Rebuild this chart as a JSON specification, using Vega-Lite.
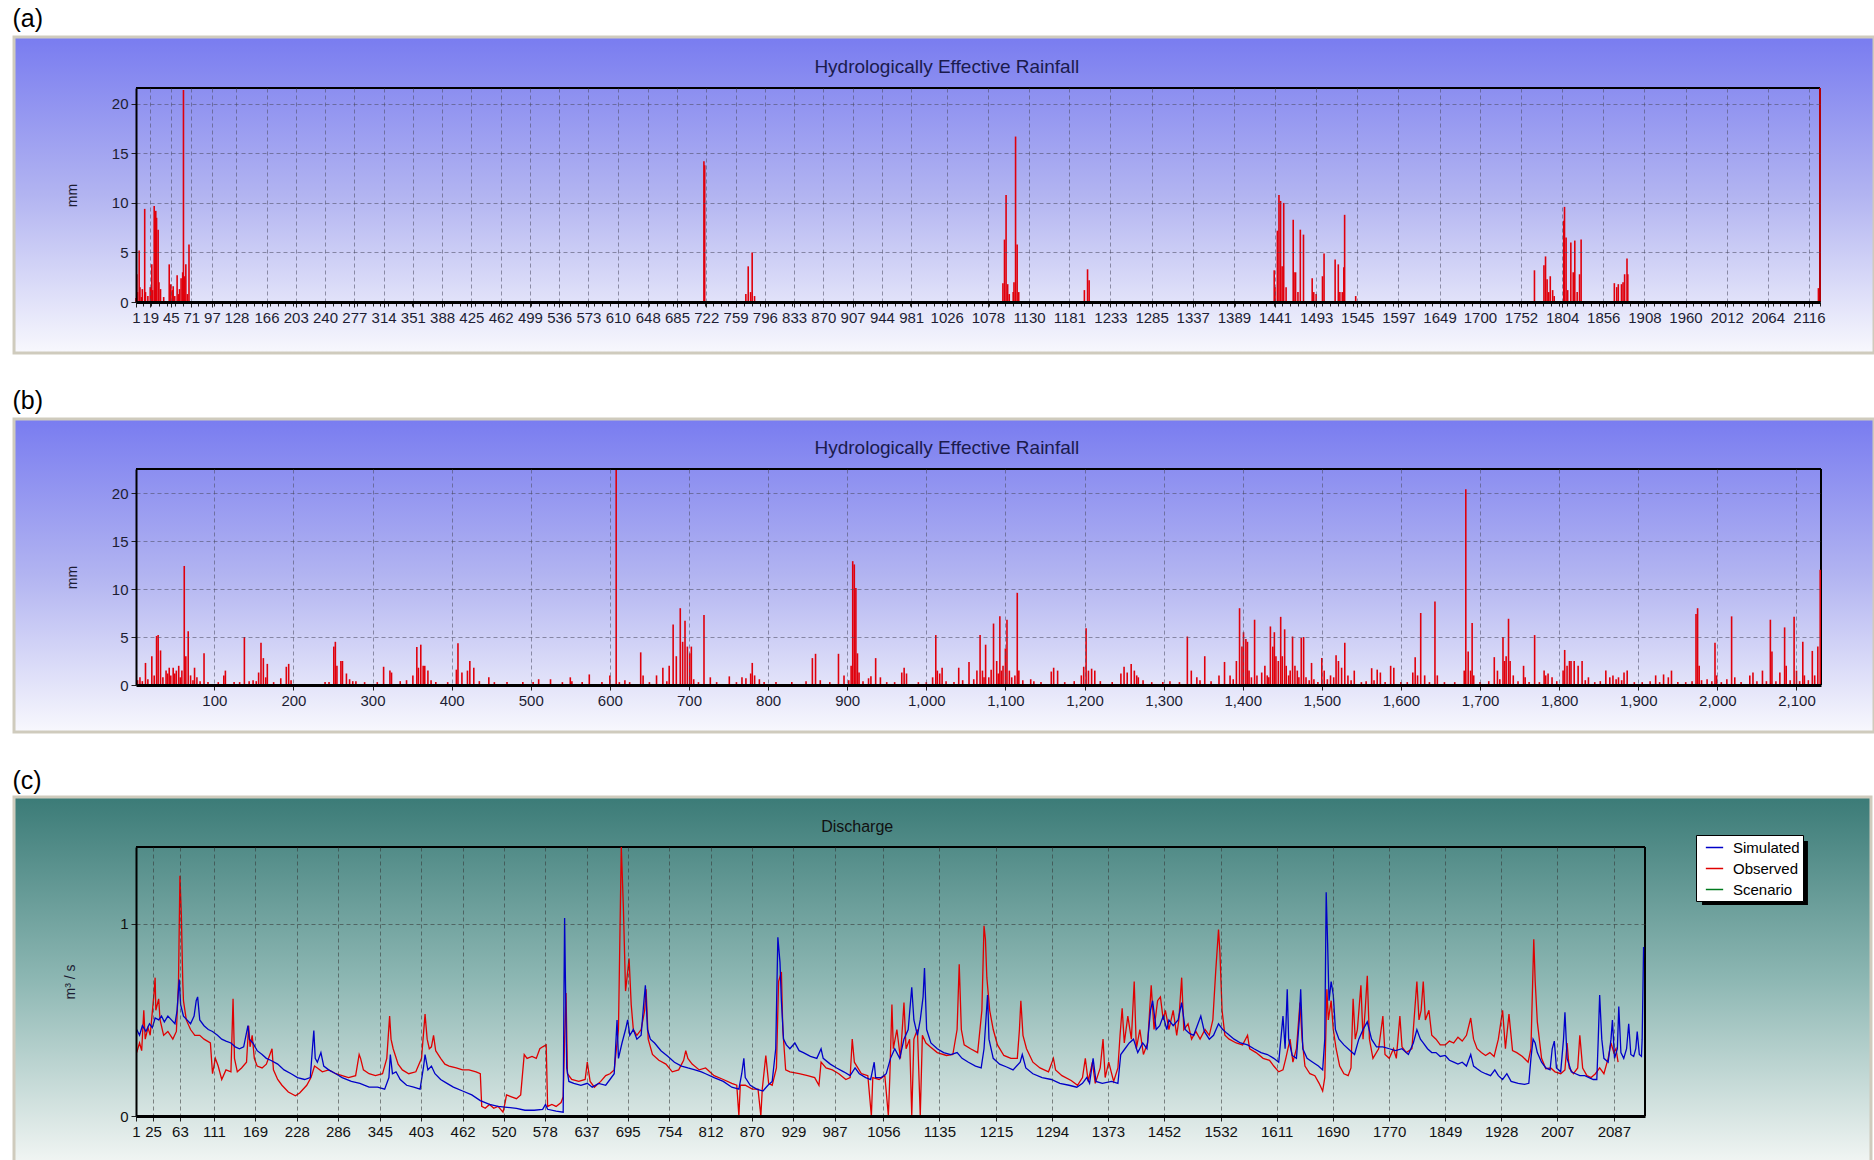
{
  "$schema": "https://vega.github.io/schema/vega-lite/v6.json",
  "background": "white",
  "padding": {"left": 12, "top": 7, "right": 0, "bottom": 0},
  "spacing": 34,
  "resolve": {"scale": {"color": "independent"}, "legend": {"color": "independent"}},
  "config": {
    "font": "Liberation Sans",
    "view": {"stroke": null},
    "axis": {
      "labelFont": "Liberation Sans",
      "labelFontSize": 15,
      "labelColor": "#1d1d33",
      "titleFont": "Liberation Sans",
      "titleFontSize": 14,
      "titleFontWeight": "normal",
      "titleColor": "#1d1d33",
      "gridDash": [4, 3],
      "gridColor": "#4a4a60",
      "gridOpacity": 0.55,
      "gridWidth": 1,
      "tickColor": "#222222",
      "domainColor": "black",
      "labelOverlap": false,
      "labelFlush": false,
      "labelBound": false
    },
    "title": {"font": "Liberation Sans", "fontWeight": "normal"}
  },
  "datasets": {
    "rainA": [
      {"day": 1, "mm": 0.4}, {"day": 2, "mm": 2.8}, {"day": 3, "mm": 1.0}, {"day": 5, "mm": 5.2}, {"day": 6, "mm": 1.5},
      {"day": 8, "mm": 0.5}, {"day": 9, "mm": 1.3}, {"day": 12, "mm": 9.4}, {"day": 13, "mm": 1.0}, {"day": 16, "mm": 0.6},
      {"day": 19, "mm": 1.5}, {"day": 21, "mm": 3.8}, {"day": 22, "mm": 1.2}, {"day": 24, "mm": 9.7}, {"day": 25, "mm": 4.0},
      {"day": 26, "mm": 9.2}, {"day": 27, "mm": 8.5}, {"day": 29, "mm": 7.3}, {"day": 30, "mm": 2.0}, {"day": 32, "mm": 1.3},
      {"day": 36, "mm": 0.5}, {"day": 43, "mm": 3.8}, {"day": 44, "mm": 1.0}, {"day": 45, "mm": 1.8}, {"day": 47, "mm": 1.2},
      {"day": 48, "mm": 1.6}, {"day": 50, "mm": 0.6}, {"day": 53, "mm": 2.7}, {"day": 55, "mm": 0.8}, {"day": 56, "mm": 1.3},
      {"day": 58, "mm": 2.4}, {"day": 60, "mm": 3.0}, {"day": 61, "mm": 21.4}, {"day": 62, "mm": 2.6}, {"day": 64, "mm": 3.8},
      {"day": 66, "mm": 0.8}, {"day": 68, "mm": 5.8},
      {"day": 719, "mm": 14.2}, {"day": 720, "mm": 13.8},
      {"day": 772, "mm": 0.8}, {"day": 775, "mm": 3.6}, {"day": 778, "mm": 1.0}, {"day": 780, "mm": 5.0}, {"day": 783, "mm": 0.6},
      {"day": 1097, "mm": 1.9}, {"day": 1099, "mm": 6.3}, {"day": 1101, "mm": 10.8}, {"day": 1103, "mm": 1.8}, {"day": 1105, "mm": 0.8},
      {"day": 1110, "mm": 1.0}, {"day": 1111, "mm": 2.0}, {"day": 1113, "mm": 16.7}, {"day": 1115, "mm": 5.8}, {"day": 1117, "mm": 1.0},
      {"day": 1200, "mm": 1.2}, {"day": 1204, "mm": 3.3}, {"day": 1206, "mm": 2.2},
      {"day": 1440, "mm": 3.2}, {"day": 1441, "mm": 1.5}, {"day": 1444, "mm": 7.2}, {"day": 1446, "mm": 10.8}, {"day": 1448, "mm": 10.2},
      {"day": 1450, "mm": 3.6}, {"day": 1452, "mm": 10.0}, {"day": 1455, "mm": 1.5}, {"day": 1464, "mm": 8.3}, {"day": 1465, "mm": 3.0},
      {"day": 1467, "mm": 3.0}, {"day": 1470, "mm": 1.0}, {"day": 1473, "mm": 7.3}, {"day": 1477, "mm": 6.8}, {"day": 1488, "mm": 2.4},
      {"day": 1490, "mm": 1.0}, {"day": 1493, "mm": 0.8}, {"day": 1501, "mm": 2.6}, {"day": 1503, "mm": 4.9}, {"day": 1517, "mm": 4.3},
      {"day": 1521, "mm": 3.8}, {"day": 1523, "mm": 1.0}, {"day": 1526, "mm": 1.0}, {"day": 1528, "mm": 3.5}, {"day": 1529, "mm": 8.8},
      {"day": 1543, "mm": 0.6},
      {"day": 1769, "mm": 3.2}, {"day": 1781, "mm": 3.7}, {"day": 1783, "mm": 4.6}, {"day": 1785, "mm": 2.3}, {"day": 1787, "mm": 1.0},
      {"day": 1789, "mm": 2.6}, {"day": 1792, "mm": 1.2}, {"day": 1794, "mm": 0.6}, {"day": 1806, "mm": 8.2}, {"day": 1807, "mm": 9.6},
      {"day": 1809, "mm": 6.5}, {"day": 1811, "mm": 1.2}, {"day": 1815, "mm": 6.0}, {"day": 1818, "mm": 3.0}, {"day": 1820, "mm": 6.2},
      {"day": 1823, "mm": 1.0}, {"day": 1826, "mm": 2.8}, {"day": 1828, "mm": 6.3},
      {"day": 1870, "mm": 1.9}, {"day": 1873, "mm": 1.5}, {"day": 1875, "mm": 1.8}, {"day": 1879, "mm": 1.8}, {"day": 1881, "mm": 2.0},
      {"day": 1883, "mm": 2.8}, {"day": 1886, "mm": 4.4}, {"day": 1887, "mm": 2.8},
      {"day": 2128, "mm": 1.4}, {"day": 2130, "mm": 21.6}
    ],
    "rainB": [
      {"day": 3, "mm": 0.5}, {"day": 6, "mm": 0.8}, {"day": 9, "mm": 0.4}, {"day": 13, "mm": 2.3}, {"day": 16, "mm": 0.6},
      {"day": 21, "mm": 3.0}, {"day": 24, "mm": 1.0}, {"day": 27, "mm": 5.1}, {"day": 29, "mm": 5.2}, {"day": 32, "mm": 3.6},
      {"day": 35, "mm": 0.8}, {"day": 39, "mm": 1.5}, {"day": 41, "mm": 1.2}, {"day": 43, "mm": 1.8}, {"day": 45, "mm": 1.0},
      {"day": 48, "mm": 1.8}, {"day": 50, "mm": 1.2}, {"day": 52, "mm": 1.5}, {"day": 55, "mm": 2.0}, {"day": 57, "mm": 0.8},
      {"day": 59, "mm": 1.5}, {"day": 62, "mm": 12.4}, {"day": 64, "mm": 3.0}, {"day": 67, "mm": 5.6}, {"day": 70, "mm": 1.0},
      {"day": 73, "mm": 0.5}, {"day": 75, "mm": 1.8}, {"day": 78, "mm": 0.8}, {"day": 82, "mm": 0.4}, {"day": 87, "mm": 3.3},
      {"day": 92, "mm": 0.3}, {"day": 105, "mm": 0.3}, {"day": 112, "mm": 1.0}, {"day": 114, "mm": 1.5}, {"day": 125, "mm": 0.3},
      {"day": 132, "mm": 0.3}, {"day": 138, "mm": 5.0}, {"day": 144, "mm": 0.4}, {"day": 149, "mm": 0.5}, {"day": 153, "mm": 0.4},
      {"day": 156, "mm": 1.3}, {"day": 159, "mm": 4.4}, {"day": 162, "mm": 2.8}, {"day": 165, "mm": 0.8}, {"day": 167, "mm": 2.2},
      {"day": 175, "mm": 0.3}, {"day": 184, "mm": 0.7}, {"day": 191, "mm": 1.9}, {"day": 194, "mm": 2.2}, {"day": 197, "mm": 0.5},
      {"day": 240, "mm": 0.3}, {"day": 245, "mm": 0.3}, {"day": 251, "mm": 4.0}, {"day": 253, "mm": 4.5}, {"day": 255, "mm": 2.0},
      {"day": 260, "mm": 2.5}, {"day": 262, "mm": 2.5}, {"day": 267, "mm": 1.2}, {"day": 271, "mm": 0.6}, {"day": 275, "mm": 0.4},
      {"day": 279, "mm": 0.4}, {"day": 290, "mm": 0.3}, {"day": 306, "mm": 0.3}, {"day": 314, "mm": 1.9}, {"day": 322, "mm": 1.5},
      {"day": 324, "mm": 1.3}, {"day": 335, "mm": 0.4}, {"day": 343, "mm": 0.5}, {"day": 351, "mm": 1.0}, {"day": 356, "mm": 3.95},
      {"day": 358, "mm": 1.8}, {"day": 361, "mm": 4.2}, {"day": 364, "mm": 2.0}, {"day": 366, "mm": 2.0}, {"day": 370, "mm": 1.5},
      {"day": 374, "mm": 0.5}, {"day": 380, "mm": 0.3}, {"day": 395, "mm": 0.3}, {"day": 406, "mm": 1.6}, {"day": 408, "mm": 4.35},
      {"day": 413, "mm": 1.3}, {"day": 420, "mm": 1.5}, {"day": 423, "mm": 2.5}, {"day": 428, "mm": 1.8}, {"day": 435, "mm": 0.4},
      {"day": 447, "mm": 0.8}, {"day": 454, "mm": 0.3}, {"day": 470, "mm": 0.3}, {"day": 490, "mm": 0.3}, {"day": 503, "mm": 0.3},
      {"day": 510, "mm": 0.6}, {"day": 525, "mm": 0.6}, {"day": 540, "mm": 0.3}, {"day": 550, "mm": 0.8}, {"day": 552, "mm": 0.4},
      {"day": 565, "mm": 0.3}, {"day": 574, "mm": 1.1}, {"day": 590, "mm": 0.3}, {"day": 600, "mm": 1.0}, {"day": 608, "mm": 22.4},
      {"day": 612, "mm": 0.3}, {"day": 619, "mm": 0.5}, {"day": 625, "mm": 0.3},
      {"day": 639, "mm": 3.4}, {"day": 642, "mm": 1.0}, {"day": 650, "mm": 0.3}, {"day": 659, "mm": 1.0}, {"day": 667, "mm": 1.8},
      {"day": 672, "mm": 0.4}, {"day": 675, "mm": 2.0}, {"day": 680, "mm": 6.3}, {"day": 684, "mm": 3.0}, {"day": 689, "mm": 8.0},
      {"day": 692, "mm": 4.5}, {"day": 695, "mm": 6.7}, {"day": 698, "mm": 4.0}, {"day": 701, "mm": 3.3}, {"day": 703, "mm": 4.0},
      {"day": 706, "mm": 0.6}, {"day": 712, "mm": 0.3}, {"day": 719, "mm": 7.3}, {"day": 727, "mm": 0.8}, {"day": 735, "mm": 0.3},
      {"day": 751, "mm": 0.9}, {"day": 760, "mm": 0.3}, {"day": 767, "mm": 0.8}, {"day": 772, "mm": 0.7}, {"day": 778, "mm": 1.2},
      {"day": 780, "mm": 2.3}, {"day": 783, "mm": 1.0}, {"day": 789, "mm": 0.6}, {"day": 795, "mm": 0.3}, {"day": 810, "mm": 0.3},
      {"day": 830, "mm": 0.3}, {"day": 848, "mm": 0.4}, {"day": 856, "mm": 2.8}, {"day": 860, "mm": 3.25}, {"day": 866, "mm": 0.5},
      {"day": 878, "mm": 0.3}, {"day": 889, "mm": 3.25}, {"day": 896, "mm": 1.0}, {"day": 902, "mm": 0.5}, {"day": 905, "mm": 2.0},
      {"day": 907, "mm": 12.9}, {"day": 909, "mm": 12.56}, {"day": 911, "mm": 10.1}, {"day": 913, "mm": 3.3}, {"day": 915, "mm": 1.3},
      {"day": 920, "mm": 0.4}, {"day": 927, "mm": 0.7}, {"day": 930, "mm": 0.9}, {"day": 936, "mm": 2.8}, {"day": 942, "mm": 0.8},
      {"day": 950, "mm": 0.3}, {"day": 960, "mm": 0.3}, {"day": 969, "mm": 1.3}, {"day": 972, "mm": 1.8}, {"day": 975, "mm": 1.2},
      {"day": 990, "mm": 0.3}, {"day": 1000, "mm": 0.3}, {"day": 1008, "mm": 0.8}, {"day": 1012, "mm": 5.2}, {"day": 1014, "mm": 1.5},
      {"day": 1017, "mm": 1.2}, {"day": 1020, "mm": 1.8}, {"day": 1025, "mm": 0.4}, {"day": 1035, "mm": 0.3}, {"day": 1041, "mm": 1.8},
      {"day": 1046, "mm": 0.5}, {"day": 1054, "mm": 2.4}, {"day": 1060, "mm": 0.6}, {"day": 1064, "mm": 1.5}, {"day": 1068, "mm": 5.2},
      {"day": 1071, "mm": 1.5}, {"day": 1073, "mm": 0.8}, {"day": 1075, "mm": 4.2}, {"day": 1079, "mm": 0.8}, {"day": 1082, "mm": 1.6},
      {"day": 1085, "mm": 6.4}, {"day": 1089, "mm": 2.5}, {"day": 1091, "mm": 1.2}, {"day": 1093, "mm": 7.15}, {"day": 1095, "mm": 1.5},
      {"day": 1097, "mm": 2.0}, {"day": 1100, "mm": 3.8}, {"day": 1102, "mm": 6.8}, {"day": 1105, "mm": 1.5}, {"day": 1108, "mm": 0.8},
      {"day": 1112, "mm": 1.0}, {"day": 1115, "mm": 9.6}, {"day": 1117, "mm": 1.5}, {"day": 1122, "mm": 0.5}, {"day": 1132, "mm": 0.6},
      {"day": 1136, "mm": 0.4}, {"day": 1145, "mm": 0.3}, {"day": 1158, "mm": 1.4}, {"day": 1161, "mm": 1.8}, {"day": 1166, "mm": 1.5},
      {"day": 1175, "mm": 0.3}, {"day": 1187, "mm": 0.4}, {"day": 1196, "mm": 1.0}, {"day": 1199, "mm": 1.9}, {"day": 1202, "mm": 5.9},
      {"day": 1205, "mm": 1.5}, {"day": 1209, "mm": 1.7}, {"day": 1213, "mm": 1.5}, {"day": 1220, "mm": 0.4}, {"day": 1235, "mm": 0.3},
      {"day": 1246, "mm": 1.2}, {"day": 1250, "mm": 1.9}, {"day": 1254, "mm": 1.3}, {"day": 1259, "mm": 2.2}, {"day": 1263, "mm": 1.5},
      {"day": 1266, "mm": 1.0}, {"day": 1268, "mm": 0.8}, {"day": 1274, "mm": 0.5}, {"day": 1285, "mm": 0.3}, {"day": 1299, "mm": 0.3},
      {"day": 1308, "mm": 0.4}, {"day": 1320, "mm": 0.3}, {"day": 1330, "mm": 5.05}, {"day": 1335, "mm": 1.5}, {"day": 1342, "mm": 0.8},
      {"day": 1346, "mm": 0.5}, {"day": 1352, "mm": 3.0}, {"day": 1360, "mm": 0.4},
      {"day": 1370, "mm": 1.0}, {"day": 1377, "mm": 2.4}, {"day": 1384, "mm": 1.0}, {"day": 1388, "mm": 0.6}, {"day": 1392, "mm": 2.5},
      {"day": 1396, "mm": 8.0}, {"day": 1399, "mm": 4.0}, {"day": 1401, "mm": 5.5}, {"day": 1404, "mm": 4.8}, {"day": 1406, "mm": 4.5},
      {"day": 1408, "mm": 1.5}, {"day": 1411, "mm": 0.8}, {"day": 1415, "mm": 6.8}, {"day": 1418, "mm": 1.0}, {"day": 1424, "mm": 1.3},
      {"day": 1428, "mm": 2.0}, {"day": 1431, "mm": 1.0}, {"day": 1433, "mm": 0.8}, {"day": 1435, "mm": 6.1}, {"day": 1438, "mm": 4.0},
      {"day": 1440, "mm": 5.5}, {"day": 1442, "mm": 3.0}, {"day": 1445, "mm": 2.5}, {"day": 1448, "mm": 7.1}, {"day": 1450, "mm": 3.0},
      {"day": 1453, "mm": 5.8}, {"day": 1455, "mm": 2.0}, {"day": 1458, "mm": 1.0}, {"day": 1460, "mm": 1.5}, {"day": 1463, "mm": 5.05},
      {"day": 1466, "mm": 2.0}, {"day": 1469, "mm": 1.5}, {"day": 1471, "mm": 0.8}, {"day": 1474, "mm": 4.9}, {"day": 1477, "mm": 5.0},
      {"day": 1480, "mm": 0.8}, {"day": 1484, "mm": 0.5}, {"day": 1487, "mm": 2.3}, {"day": 1490, "mm": 0.6}, {"day": 1495, "mm": 0.3},
      {"day": 1500, "mm": 2.8}, {"day": 1503, "mm": 1.5}, {"day": 1507, "mm": 0.6}, {"day": 1511, "mm": 1.0}, {"day": 1515, "mm": 0.8},
      {"day": 1518, "mm": 3.1}, {"day": 1521, "mm": 2.5}, {"day": 1525, "mm": 1.8}, {"day": 1529, "mm": 4.4}, {"day": 1533, "mm": 1.0},
      {"day": 1537, "mm": 0.5}, {"day": 1541, "mm": 1.5}, {"day": 1550, "mm": 0.3}, {"day": 1556, "mm": 0.4}, {"day": 1563, "mm": 1.75},
      {"day": 1566, "mm": 0.5}, {"day": 1570, "mm": 1.6}, {"day": 1574, "mm": 1.3}, {"day": 1580, "mm": 0.3}, {"day": 1587, "mm": 2.0},
      {"day": 1591, "mm": 1.8}, {"day": 1600, "mm": 0.3}, {"day": 1608, "mm": 0.3}, {"day": 1615, "mm": 1.3}, {"day": 1618, "mm": 2.9},
      {"day": 1621, "mm": 1.0}, {"day": 1625, "mm": 7.5}, {"day": 1630, "mm": 1.0}, {"day": 1636, "mm": 0.3}, {"day": 1643, "mm": 8.7},
      {"day": 1646, "mm": 1.0}, {"day": 1655, "mm": 0.3}, {"day": 1668, "mm": 0.3}, {"day": 1680, "mm": 1.5}, {"day": 1682, "mm": 20.4},
      {"day": 1685, "mm": 3.5}, {"day": 1688, "mm": 1.5}, {"day": 1690, "mm": 6.45}, {"day": 1692, "mm": 1.0}, {"day": 1700, "mm": 0.3},
      {"day": 1711, "mm": 0.4}, {"day": 1718, "mm": 2.9}, {"day": 1722, "mm": 1.5}, {"day": 1725, "mm": 0.6}, {"day": 1729, "mm": 5.0},
      {"day": 1731, "mm": 2.5}, {"day": 1733, "mm": 3.0}, {"day": 1736, "mm": 6.9}, {"day": 1738, "mm": 2.5}, {"day": 1742, "mm": 1.0},
      {"day": 1748, "mm": 0.4}, {"day": 1755, "mm": 2.0}, {"day": 1757, "mm": 0.8}, {"day": 1762, "mm": 0.3}, {"day": 1769, "mm": 5.2},
      {"day": 1775, "mm": 0.3}, {"day": 1781, "mm": 1.5}, {"day": 1783, "mm": 1.0}, {"day": 1786, "mm": 1.2}, {"day": 1791, "mm": 0.8},
      {"day": 1797, "mm": 0.4}, {"day": 1805, "mm": 1.5}, {"day": 1807, "mm": 3.65}, {"day": 1810, "mm": 2.0}, {"day": 1813, "mm": 2.5},
      {"day": 1815, "mm": 2.5}, {"day": 1819, "mm": 2.5}, {"day": 1824, "mm": 2.0}, {"day": 1829, "mm": 2.5}, {"day": 1833, "mm": 0.5},
      {"day": 1837, "mm": 0.8}, {"day": 1845, "mm": 0.3}, {"day": 1852, "mm": 0.4}, {"day": 1859, "mm": 1.5}, {"day": 1864, "mm": 0.8},
      {"day": 1868, "mm": 1.0}, {"day": 1872, "mm": 0.6}, {"day": 1875, "mm": 0.8}, {"day": 1879, "mm": 0.5}, {"day": 1882, "mm": 1.3},
      {"day": 1886, "mm": 1.5}, {"day": 1895, "mm": 0.3}, {"day": 1905, "mm": 0.3}, {"day": 1915, "mm": 0.4}, {"day": 1922, "mm": 1.0},
      {"day": 1927, "mm": 0.3}, {"day": 1932, "mm": 1.1}, {"day": 1938, "mm": 0.8}, {"day": 1942, "mm": 1.5}, {"day": 1950, "mm": 0.3},
      {"day": 1960, "mm": 0.3}, {"day": 1968, "mm": 0.4}, {"day": 1973, "mm": 7.4}, {"day": 1975, "mm": 8.0}, {"day": 1977, "mm": 2.0},
      {"day": 1980, "mm": 0.5}, {"day": 1987, "mm": 0.6}, {"day": 1993, "mm": 0.4}, {"day": 1997, "mm": 4.4}, {"day": 1999, "mm": 1.0},
      {"day": 2005, "mm": 0.3}, {"day": 2012, "mm": 0.6}, {"day": 2018, "mm": 7.15}, {"day": 2022, "mm": 0.8}, {"day": 2030, "mm": 0.3},
      {"day": 2041, "mm": 1.0}, {"day": 2045, "mm": 1.3}, {"day": 2050, "mm": 0.4}, {"day": 2057, "mm": 1.5}, {"day": 2062, "mm": 0.4},
      {"day": 2067, "mm": 6.8}, {"day": 2069, "mm": 3.5}, {"day": 2074, "mm": 0.4}, {"day": 2079, "mm": 1.3}, {"day": 2085, "mm": 6.0},
      {"day": 2087, "mm": 2.0}, {"day": 2092, "mm": 0.5}, {"day": 2097, "mm": 7.1}, {"day": 2100, "mm": 1.5}, {"day": 2104, "mm": 0.4},
      {"day": 2108, "mm": 4.5}, {"day": 2110, "mm": 1.0}, {"day": 2115, "mm": 0.5}, {"day": 2120, "mm": 3.55}, {"day": 2123, "mm": 1.0},
      {"day": 2127, "mm": 4.0}, {"day": 2130, "mm": 12.0}
    ],
    "observed": [
      {"day": 2, "q": 0.33}, {"day": 6, "q": 0.38}, {"day": 9, "q": 0.34}, {"day": 12, "q": 0.55}, {"day": 14, "q": 0.40},
      {"day": 18, "q": 0.46}, {"day": 21, "q": 0.42}, {"day": 26, "q": 0.62}, {"day": 28, "q": 0.72}, {"day": 29, "q": 0.55},
      {"day": 33, "q": 0.61}, {"day": 35, "q": 0.50}, {"day": 40, "q": 0.42}, {"day": 46, "q": 0.44}, {"day": 53, "q": 0.40},
      {"day": 58, "q": 0.44}, {"day": 61, "q": 0.70}, {"day": 63, "q": 1.25}, {"day": 65, "q": 1.05}, {"day": 67, "q": 0.70},
      {"day": 68, "q": 0.60}, {"day": 72, "q": 0.50}, {"day": 78, "q": 0.45}, {"day": 84, "q": 0.42}, {"day": 91, "q": 0.42},
      {"day": 97, "q": 0.40}, {"day": 106, "q": 0.38}, {"day": 109, "q": 0.22}, {"day": 113, "q": 0.30}, {"day": 117, "q": 0.26},
      {"day": 122, "q": 0.19}, {"day": 128, "q": 0.24}, {"day": 135, "q": 0.23}, {"day": 138, "q": 0.61}, {"day": 140, "q": 0.30},
      {"day": 144, "q": 0.23}, {"day": 150, "q": 0.25}, {"day": 157, "q": 0.28}, {"day": 160, "q": 0.47}, {"day": 162, "q": 0.36},
      {"day": 165, "q": 0.42}, {"day": 168, "q": 0.30}, {"day": 172, "q": 0.26}, {"day": 179, "q": 0.25}, {"day": 185, "q": 0.27},
      {"day": 190, "q": 0.32}, {"day": 193, "q": 0.35}, {"day": 195, "q": 0.24}, {"day": 201, "q": 0.19}, {"day": 207, "q": 0.16},
      {"day": 216, "q": 0.125}, {"day": 226, "q": 0.105}, {"day": 232, "q": 0.12}, {"day": 242, "q": 0.16}, {"day": 248, "q": 0.20},
      {"day": 253, "q": 0.26}, {"day": 257, "q": 0.25}, {"day": 264, "q": 0.23}, {"day": 273, "q": 0.24}, {"day": 283, "q": 0.22},
      {"day": 292, "q": 0.21}, {"day": 301, "q": 0.20}, {"day": 311, "q": 0.21}, {"day": 316, "q": 0.32}, {"day": 318, "q": 0.30},
      {"day": 322, "q": 0.24}, {"day": 330, "q": 0.22}, {"day": 339, "q": 0.21}, {"day": 349, "q": 0.22}, {"day": 355, "q": 0.30},
      {"day": 359, "q": 0.52}, {"day": 361, "q": 0.40}, {"day": 364, "q": 0.35}, {"day": 371, "q": 0.27}, {"day": 377, "q": 0.24},
      {"day": 386, "q": 0.22}, {"day": 396, "q": 0.23}, {"day": 404, "q": 0.30}, {"day": 409, "q": 0.53}, {"day": 412, "q": 0.40},
      {"day": 415, "q": 0.35}, {"day": 418, "q": 0.36}, {"day": 421, "q": 0.42}, {"day": 424, "q": 0.34}, {"day": 431, "q": 0.30},
      {"day": 437, "q": 0.27}, {"day": 443, "q": 0.26}, {"day": 453, "q": 0.25}, {"day": 462, "q": 0.24}, {"day": 471, "q": 0.24},
      {"day": 481, "q": 0.23}, {"day": 487, "q": 0.22}, {"day": 489, "q": 0.05}, {"day": 494, "q": 0.04}, {"day": 500, "q": 0.06},
      {"day": 506, "q": 0.04}, {"day": 512, "q": 0.05}, {"day": 519, "q": 0.02}, {"day": 522, "q": 0.07}, {"day": 524, "q": 0.11},
      {"day": 531, "q": 0.10}, {"day": 538, "q": 0.09}, {"day": 544, "q": 0.11}, {"day": 549, "q": 0.32}, {"day": 553, "q": 0.30},
      {"day": 560, "q": 0.31}, {"day": 566, "q": 0.30}, {"day": 571, "q": 0.35}, {"day": 575, "q": 0.36}, {"day": 580, "q": 0.37},
      {"day": 582, "q": 0.05}, {"day": 588, "q": 0.06}, {"day": 594, "q": 0.05}, {"day": 601, "q": 0.07}, {"day": 604, "q": 0.10},
      {"day": 606, "q": 0.40}, {"day": 608, "q": 0.64}, {"day": 610, "q": 0.22}, {"day": 616, "q": 0.19}, {"day": 626, "q": 0.18},
      {"day": 635, "q": 0.19}, {"day": 638, "q": 0.28}, {"day": 642, "q": 0.18}, {"day": 648, "q": 0.15}, {"day": 657, "q": 0.18},
      {"day": 664, "q": 0.21}, {"day": 670, "q": 0.22}, {"day": 676, "q": 0.24}, {"day": 682, "q": 0.45}, {"day": 686, "q": 1.40},
      {"day": 689, "q": 1.08}, {"day": 692, "q": 0.65}, {"day": 695, "q": 0.75}, {"day": 697, "q": 0.82}, {"day": 700, "q": 0.58},
      {"day": 703, "q": 0.45}, {"day": 708, "q": 0.42}, {"day": 714, "q": 0.45}, {"day": 719, "q": 0.55}, {"day": 721, "q": 0.66},
      {"day": 724, "q": 0.40}, {"day": 730, "q": 0.32}, {"day": 739, "q": 0.29}, {"day": 749, "q": 0.27}, {"day": 758, "q": 0.23},
      {"day": 767, "q": 0.24}, {"day": 774, "q": 0.29}, {"day": 777, "q": 0.34}, {"day": 780, "q": 0.30}, {"day": 786, "q": 0.27},
      {"day": 796, "q": 0.24}, {"day": 805, "q": 0.25}, {"day": 817, "q": 0.21}, {"day": 830, "q": 0.19}, {"day": 842, "q": 0.17},
      {"day": 849, "q": 0.16}, {"day": 852, "q": 0}, {"day": 854, "q": 0.16}, {"day": 861, "q": 0.16}, {"day": 871, "q": 0.14},
      {"day": 879, "q": 0.14}, {"day": 883, "q": 0}, {"day": 885, "q": 0.14}, {"day": 890, "q": 0.315}, {"day": 894, "q": 0.17},
      {"day": 899, "q": 0.16}, {"day": 905, "q": 0.25}, {"day": 908, "q": 0.70}, {"day": 912, "q": 0.75}, {"day": 914, "q": 0.45},
      {"day": 918, "q": 0.24}, {"day": 924, "q": 0.23}, {"day": 937, "q": 0.22}, {"day": 949, "q": 0.21}, {"day": 959, "q": 0.20},
      {"day": 965, "q": 0.16}, {"day": 968, "q": 0.28}, {"day": 975, "q": 0.25}, {"day": 984, "q": 0.24}, {"day": 993, "q": 0.22},
      {"day": 1003, "q": 0.19}, {"day": 1009, "q": 0.20}, {"day": 1012, "q": 0.40}, {"day": 1015, "q": 0.28}, {"day": 1025, "q": 0.22},
      {"day": 1034, "q": 0.21}, {"day": 1039, "q": 0}, {"day": 1041, "q": 0.20}, {"day": 1050, "q": 0.19}, {"day": 1058, "q": 0.21},
      {"day": 1063, "q": 0}, {"day": 1065, "q": 0.20}, {"day": 1068, "q": 0.58}, {"day": 1070, "q": 0.35}, {"day": 1075, "q": 0.45},
      {"day": 1080, "q": 0.30}, {"day": 1085, "q": 0.59}, {"day": 1088, "q": 0.35}, {"day": 1093, "q": 0.40}, {"day": 1096, "q": 0},
      {"day": 1099, "q": 0.40}, {"day": 1104, "q": 0.45}, {"day": 1108, "q": 0}, {"day": 1111, "q": 0.42}, {"day": 1116, "q": 0.38},
      {"day": 1122, "q": 0.36}, {"day": 1132, "q": 0.33}, {"day": 1145, "q": 0.315}, {"day": 1154, "q": 0.32}, {"day": 1160, "q": 0.45},
      {"day": 1163, "q": 0.79}, {"day": 1166, "q": 0.45}, {"day": 1170, "q": 0.37}, {"day": 1179, "q": 0.35}, {"day": 1189, "q": 0.33},
      {"day": 1195, "q": 0.55}, {"day": 1198, "q": 0.99}, {"day": 1200, "q": 0.92}, {"day": 1202, "q": 0.72}, {"day": 1206, "q": 0.55},
      {"day": 1211, "q": 0.45}, {"day": 1217, "q": 0.37}, {"day": 1226, "q": 0.315}, {"day": 1236, "q": 0.30}, {"day": 1245, "q": 0.30},
      {"day": 1248, "q": 0.45}, {"day": 1250, "q": 0.60}, {"day": 1253, "q": 0.42}, {"day": 1258, "q": 0.35}, {"day": 1267, "q": 0.28},
      {"day": 1277, "q": 0.25}, {"day": 1289, "q": 0.23}, {"day": 1296, "q": 0.30}, {"day": 1299, "q": 0.24}, {"day": 1308, "q": 0.21},
      {"day": 1321, "q": 0.185}, {"day": 1330, "q": 0.16}, {"day": 1337, "q": 0.20}, {"day": 1341, "q": 0.30}, {"day": 1345, "q": 0.18},
      {"day": 1351, "q": 0.28}, {"day": 1355, "q": 0.17}, {"day": 1362, "q": 0.25}, {"day": 1366, "q": 0.40}, {"day": 1369, "q": 0.20},
      {"day": 1374, "q": 0.28}, {"day": 1381, "q": 0.18}, {"day": 1387, "q": 0.25}, {"day": 1390, "q": 0.42}, {"day": 1393, "q": 0.56},
      {"day": 1396, "q": 0.38}, {"day": 1401, "q": 0.52}, {"day": 1406, "q": 0.40}, {"day": 1410, "q": 0.70}, {"day": 1413, "q": 0.35},
      {"day": 1418, "q": 0.45}, {"day": 1423, "q": 0.32}, {"day": 1429, "q": 0.38}, {"day": 1434, "q": 0.68}, {"day": 1438, "q": 0.45},
      {"day": 1443, "q": 0.60}, {"day": 1447, "q": 0.62}, {"day": 1451, "q": 0.50}, {"day": 1454, "q": 0.55}, {"day": 1459, "q": 0.45},
      {"day": 1465, "q": 0.55}, {"day": 1470, "q": 0.42}, {"day": 1473, "q": 0.50}, {"day": 1477, "q": 0.72}, {"day": 1480, "q": 0.45},
      {"day": 1486, "q": 0.48}, {"day": 1491, "q": 0.40}, {"day": 1497, "q": 0.44}, {"day": 1503, "q": 0.40}, {"day": 1510, "q": 0.45},
      {"day": 1516, "q": 0.42}, {"day": 1521, "q": 0.50}, {"day": 1525, "q": 0.75}, {"day": 1529, "q": 0.97}, {"day": 1531, "q": 0.85},
      {"day": 1534, "q": 0.55}, {"day": 1538, "q": 0.42}, {"day": 1544, "q": 0.40}, {"day": 1554, "q": 0.38}, {"day": 1563, "q": 0.37},
      {"day": 1570, "q": 0.42}, {"day": 1573, "q": 0.35}, {"day": 1582, "q": 0.33}, {"day": 1592, "q": 0.30}, {"day": 1601, "q": 0.29},
      {"day": 1607, "q": 0.26}, {"day": 1614, "q": 0.23}, {"day": 1620, "q": 0.24}, {"day": 1624, "q": 0.30}, {"day": 1630, "q": 0.40},
      {"day": 1634, "q": 0.28}, {"day": 1639, "q": 0.35}, {"day": 1644, "q": 0.59}, {"day": 1647, "q": 0.40}, {"day": 1651, "q": 0.26},
      {"day": 1658, "q": 0.22}, {"day": 1665, "q": 0.21}, {"day": 1671, "q": 0.17}, {"day": 1676, "q": 0.13}, {"day": 1679, "q": 0.20},
      {"day": 1682, "q": 0.66}, {"day": 1684, "q": 0.50}, {"day": 1688, "q": 0.60}, {"day": 1691, "q": 0.45}, {"day": 1695, "q": 0.35},
      {"day": 1700, "q": 0.26}, {"day": 1706, "q": 0.22}, {"day": 1712, "q": 0.21}, {"day": 1716, "q": 0.25}, {"day": 1719, "q": 0.61},
      {"day": 1722, "q": 0.40}, {"day": 1725, "q": 0.45}, {"day": 1730, "q": 0.68}, {"day": 1733, "q": 0.40}, {"day": 1736, "q": 0.55},
      {"day": 1739, "q": 0.73}, {"day": 1742, "q": 0.40}, {"day": 1747, "q": 0.30}, {"day": 1755, "q": 0.35}, {"day": 1761, "q": 0.52},
      {"day": 1764, "q": 0.32}, {"day": 1770, "q": 0.30}, {"day": 1776, "q": 0.35}, {"day": 1780, "q": 0.30}, {"day": 1785, "q": 0.52},
      {"day": 1788, "q": 0.36}, {"day": 1794, "q": 0.33}, {"day": 1802, "q": 0.35}, {"day": 1806, "q": 0.55}, {"day": 1809, "q": 0.70},
      {"day": 1812, "q": 0.50}, {"day": 1815, "q": 0.55}, {"day": 1818, "q": 0.70}, {"day": 1821, "q": 0.50}, {"day": 1826, "q": 0.55},
      {"day": 1830, "q": 0.42}, {"day": 1836, "q": 0.40}, {"day": 1842, "q": 0.37}, {"day": 1849, "q": 0.37}, {"day": 1855, "q": 0.39},
      {"day": 1861, "q": 0.38}, {"day": 1867, "q": 0.41}, {"day": 1873, "q": 0.39}, {"day": 1879, "q": 0.42}, {"day": 1885, "q": 0.51},
      {"day": 1889, "q": 0.40}, {"day": 1894, "q": 0.35}, {"day": 1900, "q": 0.33}, {"day": 1906, "q": 0.315}, {"day": 1912, "q": 0.33},
      {"day": 1918, "q": 0.31}, {"day": 1924, "q": 0.40}, {"day": 1930, "q": 0.55}, {"day": 1934, "q": 0.35}, {"day": 1939, "q": 0.53},
      {"day": 1944, "q": 0.34}, {"day": 1950, "q": 0.33}, {"day": 1958, "q": 0.31}, {"day": 1966, "q": 0.28}, {"day": 1970, "q": 0.35},
      {"day": 1974, "q": 0.92}, {"day": 1976, "q": 0.70}, {"day": 1979, "q": 0.49}, {"day": 1985, "q": 0.30}, {"day": 1991, "q": 0.246},
      {"day": 1998, "q": 0.25}, {"day": 2004, "q": 0.23}, {"day": 2012, "q": 0.22}, {"day": 2018, "q": 0.24}, {"day": 2021, "q": 0.38},
      {"day": 2024, "q": 0.25}, {"day": 2030, "q": 0.22}, {"day": 2036, "q": 0.25}, {"day": 2039, "q": 0.42}, {"day": 2043, "q": 0.25},
      {"day": 2049, "q": 0.21}, {"day": 2055, "q": 0.20}, {"day": 2061, "q": 0.22}, {"day": 2067, "q": 0.25}, {"day": 2073, "q": 0.22},
      {"day": 2079, "q": 0.30}, {"day": 2083, "q": 0.38}, {"day": 2087, "q": 0.33}, {"day": 2090, "q": 0.35}, {"day": 2093, "q": 0.28}
    ],
    "simulated": [
      {"day": 2, "q": 0.45}, {"day": 6, "q": 0.42}, {"day": 10, "q": 0.47}, {"day": 15, "q": 0.44}, {"day": 20, "q": 0.48},
      {"day": 24, "q": 0.46}, {"day": 28, "q": 0.51}, {"day": 33, "q": 0.50}, {"day": 37, "q": 0.52}, {"day": 41, "q": 0.49},
      {"day": 46, "q": 0.52}, {"day": 51, "q": 0.50}, {"day": 56, "q": 0.48}, {"day": 59, "q": 0.55}, {"day": 62, "q": 0.71},
      {"day": 64, "q": 0.58}, {"day": 68, "q": 0.52}, {"day": 73, "q": 0.50}, {"day": 78, "q": 0.48}, {"day": 83, "q": 0.52},
      {"day": 86, "q": 0.60}, {"day": 88, "q": 0.62}, {"day": 91, "q": 0.50}, {"day": 97, "q": 0.47}, {"day": 103, "q": 0.45},
      {"day": 109, "q": 0.44}, {"day": 116, "q": 0.42}, {"day": 122, "q": 0.40}, {"day": 128, "q": 0.39}, {"day": 135, "q": 0.38},
      {"day": 141, "q": 0.36}, {"day": 147, "q": 0.35}, {"day": 153, "q": 0.36}, {"day": 159, "q": 0.47}, {"day": 161, "q": 0.40},
      {"day": 166, "q": 0.38}, {"day": 172, "q": 0.34}, {"day": 179, "q": 0.32}, {"day": 185, "q": 0.30}, {"day": 191, "q": 0.29},
      {"day": 201, "q": 0.27}, {"day": 210, "q": 0.24}, {"day": 220, "q": 0.22}, {"day": 229, "q": 0.20}, {"day": 239, "q": 0.19},
      {"day": 247, "q": 0.20}, {"day": 250, "q": 0.35}, {"day": 252, "q": 0.445}, {"day": 254, "q": 0.30}, {"day": 257, "q": 0.28},
      {"day": 262, "q": 0.33}, {"day": 266, "q": 0.26}, {"day": 273, "q": 0.24}, {"day": 283, "q": 0.22}, {"day": 292, "q": 0.20},
      {"day": 305, "q": 0.18}, {"day": 317, "q": 0.17}, {"day": 330, "q": 0.15}, {"day": 342, "q": 0.15}, {"day": 352, "q": 0.14},
      {"day": 358, "q": 0.20}, {"day": 360, "q": 0.32}, {"day": 363, "q": 0.22}, {"day": 368, "q": 0.23}, {"day": 374, "q": 0.19},
      {"day": 383, "q": 0.16}, {"day": 393, "q": 0.15}, {"day": 402, "q": 0.14}, {"day": 407, "q": 0.26}, {"day": 409, "q": 0.32},
      {"day": 413, "q": 0.24}, {"day": 418, "q": 0.26}, {"day": 423, "q": 0.22}, {"day": 431, "q": 0.19}, {"day": 440, "q": 0.17},
      {"day": 449, "q": 0.15}, {"day": 462, "q": 0.13}, {"day": 475, "q": 0.11}, {"day": 487, "q": 0.08}, {"day": 500, "q": 0.06},
      {"day": 512, "q": 0.05}, {"day": 525, "q": 0.045}, {"day": 538, "q": 0.04}, {"day": 550, "q": 0.03}, {"day": 563, "q": 0.03},
      {"day": 575, "q": 0.035}, {"day": 579, "q": 0.06}, {"day": 582, "q": 0.035}, {"day": 594, "q": 0.025}, {"day": 604, "q": 0.02},
      {"day": 605, "q": 0.60}, {"day": 606, "q": 1.03}, {"day": 607, "q": 0.75}, {"day": 609, "q": 0.25}, {"day": 612, "q": 0.18},
      {"day": 619, "q": 0.17}, {"day": 629, "q": 0.16}, {"day": 638, "q": 0.17}, {"day": 645, "q": 0.15}, {"day": 654, "q": 0.17},
      {"day": 664, "q": 0.16}, {"day": 670, "q": 0.19}, {"day": 676, "q": 0.22}, {"day": 680, "q": 0.50}, {"day": 682, "q": 0.30},
      {"day": 687, "q": 0.38}, {"day": 692, "q": 0.45}, {"day": 695, "q": 0.50}, {"day": 698, "q": 0.42}, {"day": 703, "q": 0.45},
      {"day": 708, "q": 0.40}, {"day": 714, "q": 0.42}, {"day": 718, "q": 0.60}, {"day": 720, "q": 0.68}, {"day": 723, "q": 0.45},
      {"day": 727, "q": 0.40}, {"day": 733, "q": 0.38}, {"day": 742, "q": 0.34}, {"day": 752, "q": 0.31}, {"day": 761, "q": 0.28},
      {"day": 771, "q": 0.26}, {"day": 780, "q": 0.25}, {"day": 790, "q": 0.24}, {"day": 799, "q": 0.23}, {"day": 805, "q": 0.22},
      {"day": 817, "q": 0.20}, {"day": 830, "q": 0.18}, {"day": 842, "q": 0.15}, {"day": 852, "q": 0.14}, {"day": 856, "q": 0.22},
      {"day": 859, "q": 0.30}, {"day": 861, "q": 0.20}, {"day": 868, "q": 0.16}, {"day": 877, "q": 0.14}, {"day": 886, "q": 0.13},
      {"day": 893, "q": 0.16}, {"day": 899, "q": 0.18}, {"day": 904, "q": 0.35}, {"day": 907, "q": 0.93}, {"day": 910, "q": 0.80},
      {"day": 912, "q": 0.60}, {"day": 915, "q": 0.40}, {"day": 919, "q": 0.37}, {"day": 924, "q": 0.35}, {"day": 931, "q": 0.38},
      {"day": 937, "q": 0.34}, {"day": 943, "q": 0.33}, {"day": 953, "q": 0.31}, {"day": 962, "q": 0.30}, {"day": 968, "q": 0.35},
      {"day": 971, "q": 0.30}, {"day": 981, "q": 0.27}, {"day": 990, "q": 0.25}, {"day": 1000, "q": 0.23}, {"day": 1009, "q": 0.21},
      {"day": 1016, "q": 0.25}, {"day": 1022, "q": 0.22}, {"day": 1031, "q": 0.20}, {"day": 1038, "q": 0.19}, {"day": 1043, "q": 0.28},
      {"day": 1045, "q": 0.20}, {"day": 1053, "q": 0.20}, {"day": 1060, "q": 0.22}, {"day": 1066, "q": 0.30}, {"day": 1072, "q": 0.35},
      {"day": 1079, "q": 0.30}, {"day": 1085, "q": 0.40}, {"day": 1091, "q": 0.45}, {"day": 1096, "q": 0.67}, {"day": 1099, "q": 0.50},
      {"day": 1104, "q": 0.42}, {"day": 1108, "q": 0.50}, {"day": 1112, "q": 0.62}, {"day": 1114, "q": 0.77}, {"day": 1117, "q": 0.45},
      {"day": 1123, "q": 0.38}, {"day": 1132, "q": 0.35}, {"day": 1141, "q": 0.33}, {"day": 1151, "q": 0.32}, {"day": 1160, "q": 0.33},
      {"day": 1167, "q": 0.30}, {"day": 1176, "q": 0.28}, {"day": 1186, "q": 0.26}, {"day": 1194, "q": 0.25}, {"day": 1198, "q": 0.35},
      {"day": 1203, "q": 0.63}, {"day": 1205, "q": 0.40}, {"day": 1211, "q": 0.30}, {"day": 1220, "q": 0.27}, {"day": 1230, "q": 0.255},
      {"day": 1239, "q": 0.24}, {"day": 1249, "q": 0.28}, {"day": 1252, "q": 0.32}, {"day": 1257, "q": 0.25}, {"day": 1267, "q": 0.22},
      {"day": 1280, "q": 0.20}, {"day": 1293, "q": 0.19}, {"day": 1305, "q": 0.17}, {"day": 1318, "q": 0.16}, {"day": 1329, "q": 0.15},
      {"day": 1337, "q": 0.17}, {"day": 1343, "q": 0.20}, {"day": 1347, "q": 0.17}, {"day": 1352, "q": 0.30}, {"day": 1356, "q": 0.18},
      {"day": 1365, "q": 0.17}, {"day": 1378, "q": 0.18}, {"day": 1387, "q": 0.17}, {"day": 1391, "q": 0.32}, {"day": 1397, "q": 0.35},
      {"day": 1403, "q": 0.38}, {"day": 1409, "q": 0.40}, {"day": 1415, "q": 0.33}, {"day": 1422, "q": 0.38}, {"day": 1428, "q": 0.35},
      {"day": 1433, "q": 0.55}, {"day": 1436, "q": 0.60}, {"day": 1441, "q": 0.45}, {"day": 1446, "q": 0.47}, {"day": 1451, "q": 0.52},
      {"day": 1456, "q": 0.45}, {"day": 1459, "q": 0.50}, {"day": 1465, "q": 0.47}, {"day": 1472, "q": 0.50}, {"day": 1477, "q": 0.59},
      {"day": 1482, "q": 0.45}, {"day": 1488, "q": 0.43}, {"day": 1494, "q": 0.42}, {"day": 1504, "q": 0.52}, {"day": 1509, "q": 0.44},
      {"day": 1516, "q": 0.40}, {"day": 1522, "q": 0.42}, {"day": 1529, "q": 0.48}, {"day": 1535, "q": 0.45}, {"day": 1541, "q": 0.43},
      {"day": 1551, "q": 0.40}, {"day": 1560, "q": 0.38}, {"day": 1570, "q": 0.37}, {"day": 1579, "q": 0.35}, {"day": 1589, "q": 0.33},
      {"day": 1598, "q": 0.32}, {"day": 1607, "q": 0.30}, {"day": 1614, "q": 0.28}, {"day": 1620, "q": 0.52}, {"day": 1623, "q": 0.35},
      {"day": 1626, "q": 0.66}, {"day": 1628, "q": 0.40}, {"day": 1633, "q": 0.315}, {"day": 1639, "q": 0.30}, {"day": 1643, "q": 0.50},
      {"day": 1645, "q": 0.66}, {"day": 1648, "q": 0.35}, {"day": 1654, "q": 0.30}, {"day": 1662, "q": 0.28}, {"day": 1670, "q": 0.26},
      {"day": 1676, "q": 0.24}, {"day": 1679, "q": 0.40}, {"day": 1681, "q": 1.165}, {"day": 1683, "q": 0.90}, {"day": 1685, "q": 0.60},
      {"day": 1688, "q": 0.70}, {"day": 1691, "q": 0.63}, {"day": 1694, "q": 0.45}, {"day": 1699, "q": 0.40}, {"day": 1706, "q": 0.37},
      {"day": 1715, "q": 0.34}, {"day": 1721, "q": 0.32}, {"day": 1727, "q": 0.40}, {"day": 1733, "q": 0.45}, {"day": 1739, "q": 0.49},
      {"day": 1745, "q": 0.40}, {"day": 1752, "q": 0.36}, {"day": 1761, "q": 0.36}, {"day": 1770, "q": 0.35}, {"day": 1779, "q": 0.34},
      {"day": 1788, "q": 0.35}, {"day": 1797, "q": 0.32}, {"day": 1804, "q": 0.38}, {"day": 1809, "q": 0.45}, {"day": 1814, "q": 0.40},
      {"day": 1818, "q": 0.38}, {"day": 1824, "q": 0.35}, {"day": 1830, "q": 0.33}, {"day": 1836, "q": 0.33}, {"day": 1842, "q": 0.31},
      {"day": 1849, "q": 0.315}, {"day": 1855, "q": 0.29}, {"day": 1861, "q": 0.28}, {"day": 1867, "q": 0.27}, {"day": 1873, "q": 0.28},
      {"day": 1879, "q": 0.26}, {"day": 1885, "q": 0.32}, {"day": 1889, "q": 0.26}, {"day": 1894, "q": 0.246}, {"day": 1900, "q": 0.23},
      {"day": 1906, "q": 0.22}, {"day": 1913, "q": 0.21}, {"day": 1919, "q": 0.24}, {"day": 1924, "q": 0.21}, {"day": 1930, "q": 0.19},
      {"day": 1936, "q": 0.22}, {"day": 1942, "q": 0.18}, {"day": 1952, "q": 0.17}, {"day": 1961, "q": 0.165}, {"day": 1967, "q": 0.17},
      {"day": 1970, "q": 0.30}, {"day": 1973, "q": 0.40}, {"day": 1976, "q": 0.38}, {"day": 1979, "q": 0.33}, {"day": 1985, "q": 0.28},
      {"day": 1991, "q": 0.25}, {"day": 1997, "q": 0.24}, {"day": 2000, "q": 0.35}, {"day": 2003, "q": 0.39}, {"day": 2006, "q": 0.25},
      {"day": 2012, "q": 0.23}, {"day": 2016, "q": 0.40}, {"day": 2018, "q": 0.54}, {"day": 2021, "q": 0.30}, {"day": 2027, "q": 0.23},
      {"day": 2033, "q": 0.22}, {"day": 2039, "q": 0.21}, {"day": 2046, "q": 0.21}, {"day": 2052, "q": 0.20}, {"day": 2058, "q": 0.19},
      {"day": 2063, "q": 0.19}, {"day": 2065, "q": 0.40}, {"day": 2067, "q": 0.63}, {"day": 2070, "q": 0.40}, {"day": 2073, "q": 0.30},
      {"day": 2079, "q": 0.28}, {"day": 2083, "q": 0.40}, {"day": 2085, "q": 0.50}, {"day": 2088, "q": 0.30}, {"day": 2092, "q": 0.35},
      {"day": 2094, "q": 0.57}, {"day": 2097, "q": 0.33}, {"day": 2101, "q": 0.30}, {"day": 2105, "q": 0.35}, {"day": 2108, "q": 0.48},
      {"day": 2111, "q": 0.32}, {"day": 2115, "q": 0.31}, {"day": 2118, "q": 0.35}, {"day": 2120, "q": 0.44}, {"day": 2123, "q": 0.32},
      {"day": 2126, "q": 0.31}, {"day": 2127, "q": 0.40}, {"day": 2129, "q": 0.88}
    ]
  },
  "vconcat": [
    {
      "width": 1684,
      "height": 214,
      "title": {"text": "(a)", "anchor": "start", "frame": "bounds", "fontSize": 25, "color": "black", "baseline": "alphabetic", "offset": -17},
      "resolve": {"axis": {"x": "independent"}},
      "layer": [
        {
          "data": {"values": [{}]},
          "mark": {"type": "rect", "clip": false, "stroke": "#cfcbbd", "strokeWidth": 3,
            "fill": {"gradient": "linear", "x1": 0, "y1": 0, "x2": 0, "y2": 1,
              "stops": [{"offset": 0, "color": "#797cf0"}, {"offset": 0.5, "color": "#b2b4f1"}, {"offset": 1, "color": "#f8f8fd"}]}},
          "encoding": {
            "x": {"datum": -153.2, "type": "quantitative", "scale": {"domain": [1, 2130], "nice": false, "zero": false}, "axis": null},
            "x2": {"datum": 2198.3},
            "y": {"datum": -5.15, "type": "quantitative", "scale": {"domain": [0, 21.6], "nice": false}},
            "y2": {"datum": 26.75}
          }
        },
        {
          "data": {"values": [{}]},
          "mark": {"type": "text", "text": "Hydrologically Effective Rainfall", "clip": false, "fontSize": 19, "color": "#1b1b4d", "baseline": "middle", "align": "center"},
          "encoding": {
            "x": {"datum": 1026, "type": "quantitative", "scale": {"domain": [1, 2130], "nice": false, "zero": false}, "axis": null},
            "y": {"datum": 23.72, "type": "quantitative", "scale": {"domain": [0, 21.6], "nice": false}}
          }
        },
        {
          "data": {"values": [{}]},
          "mark": {"type": "rule", "color": "black", "strokeWidth": 2},
          "encoding": {"y": {"datum": 21.6, "type": "quantitative", "scale": {"domain": [0, 21.6], "nice": false}}}
        },
        {
          "data": {"values": [{}]},
          "mark": {"type": "rule", "color": "black", "strokeWidth": 2},
          "encoding": {"x": {"datum": 2130, "type": "quantitative", "scale": {"domain": [1, 2130], "nice": false, "zero": false},
            "axis": {"orient": "bottom", "tickCount": 213, "labels": false, "grid": false, "domain": false, "title": null, "tickSize": 4, "zindex": 1}}}
        },
        {
          "data": {"name": "rainA"},
          "mark": {"type": "rule", "color": "#e0000c", "strokeWidth": 1.6},
          "encoding": {
            "x": {"field": "day", "type": "quantitative", "scale": {"domain": [1, 2130], "nice": false, "zero": false},
              "axis": {"orient": "bottom", "values": [1, 19, 45, 71, 97, 128, 166, 203, 240, 277, 314, 351, 388, 425, 462, 499, 536, 573, 610, 648, 685, 722, 759, 796, 833, 870, 907, 944, 981, 1026, 1078, 1130, 1181, 1233, 1285, 1337, 1389, 1441, 1493, 1545, 1597, 1649, 1700, 1752, 1804, 1856, 1908, 1960, 2012, 2064, 2116],
                "format": "d", "title": null, "grid": true, "zindex": 1, "domainWidth": 3, "tickSize": 5, "labelPadding": 3, "labelOverlap": false}},
            "y": {"field": "mm", "type": "quantitative", "scale": {"domain": [0, 21.6], "nice": false},
              "axis": {"values": [0, 5, 10, 15, 20], "title": "mm", "grid": true, "zindex": 1, "domainWidth": 2, "tickSize": 5, "labelPadding": 3, "titlePadding": 32}},
            "y2": {"datum": 0}
          }
        }
      ]
    },
    {
      "width": 1685,
      "height": 216,
      "title": {"text": "(b)", "anchor": "start", "frame": "bounds", "fontSize": 25, "color": "black", "baseline": "alphabetic", "offset": -17},
      "layer": [
        {
          "data": {"values": [{}]},
          "mark": {"type": "rect", "clip": false, "stroke": "#cfcbbd", "strokeWidth": 3,
            "fill": {"gradient": "linear", "x1": 0, "y1": 0, "x2": 0, "y2": 1,
              "stops": [{"offset": 0, "color": "#797cf0"}, {"offset": 0.5, "color": "#b2b4f1"}, {"offset": 1, "color": "#f8f8fd"}]}},
          "encoding": {
            "x": {"datum": -153.2, "type": "quantitative", "scale": {"domain": [1, 2131], "nice": false, "zero": false}},
            "x2": {"datum": 2198},
            "y": {"datum": -4.9, "type": "quantitative", "scale": {"domain": [0, 22.5], "nice": false}},
            "y2": {"datum": 27.71}
          }
        },
        {
          "data": {"values": [{}]},
          "mark": {"type": "text", "text": "Hydrologically Effective Rainfall", "clip": false, "fontSize": 19, "color": "#1b1b4d", "baseline": "middle", "align": "center"},
          "encoding": {
            "x": {"datum": 1026, "type": "quantitative", "scale": {"domain": [1, 2131], "nice": false, "zero": false}},
            "y": {"datum": 24.69, "type": "quantitative", "scale": {"domain": [0, 22.5], "nice": false}}
          }
        },
        {
          "data": {"values": [{}]},
          "mark": {"type": "rule", "color": "black", "strokeWidth": 2},
          "encoding": {"y": {"datum": 22.5, "type": "quantitative", "scale": {"domain": [0, 22.5], "nice": false}}}
        },
        {
          "data": {"values": [{}]},
          "mark": {"type": "rule", "color": "black", "strokeWidth": 2},
          "encoding": {"x": {"datum": 2131, "type": "quantitative", "scale": {"domain": [1, 2131], "nice": false, "zero": false}}}
        },
        {
          "data": {"name": "rainB"},
          "mark": {"type": "rule", "color": "#e0000c", "strokeWidth": 1.6},
          "encoding": {
            "x": {"field": "day", "type": "quantitative", "scale": {"domain": [1, 2131], "nice": false, "zero": false},
              "axis": {"values": [100, 200, 300, 400, 500, 600, 700, 800, 900, 1000, 1100, 1200, 1300, 1400, 1500, 1600, 1700, 1800, 1900, 2000, 2100],
                "format": ",d", "title": null, "grid": true, "zindex": 1, "domainWidth": 3, "tickSize": 5, "labelPadding": 3, "labelOverlap": false}},
            "y": {"field": "mm", "type": "quantitative", "scale": {"domain": [0, 22.5], "nice": false},
              "axis": {"values": [0, 5, 10, 15, 20], "title": "mm", "grid": true, "zindex": 1, "domainWidth": 2, "tickSize": 5, "labelPadding": 3, "titlePadding": 32}},
            "y2": {"datum": 0}
          }
        }
      ]
    },
    {
      "width": 1509,
      "height": 269,
      "title": {"text": "(c)", "anchor": "start", "frame": "bounds", "fontSize": 25, "color": "black", "baseline": "alphabetic", "offset": -18},
      "layer": [
        {
          "data": {"values": [{}]},
          "mark": {"type": "rect", "clip": false, "stroke": "#cfcbbd", "strokeWidth": 3,
            "fill": {"gradient": "linear", "x1": 0, "y1": 0, "x2": 0, "y2": 1,
              "stops": [{"offset": 0, "color": "#3b7b77"}, {"offset": 0.5, "color": "#8db7b3"}, {"offset": 1, "color": "#f1f5f3"}]}},
          "encoding": {
            "x": {"datum": -171.2, "type": "quantitative", "scale": {"domain": [1, 2131], "nice": false, "zero": false}},
            "x2": {"datum": 2450},
            "y": {"datum": -0.24, "type": "quantitative", "scale": {"domain": [0, 1.4], "nice": false}},
            "y2": {"datum": 1.66}
          }
        },
        {
          "data": {"values": [{}]},
          "mark": {"type": "rect", "clip": false, "fill": "black"},
          "encoding": {
            "x": {"datum": 2211.5, "type": "quantitative", "scale": {"domain": [1, 2131], "nice": false, "zero": false}},
            "x2": {"datum": 2361},
            "y": {"datum": 1.098, "type": "quantitative", "scale": {"domain": [0, 1.4], "nice": false}},
            "y2": {"datum": 1.431}
          }
        },
        {
          "data": {"values": [{}]},
          "mark": {"type": "text", "text": "Discharge", "clip": false, "fontSize": 16, "color": "#111111", "baseline": "middle", "align": "center"},
          "encoding": {
            "x": {"datum": 1019, "type": "quantitative", "scale": {"domain": [1, 2131], "nice": false, "zero": false}},
            "y": {"datum": 1.504, "type": "quantitative", "scale": {"domain": [0, 1.4], "nice": false}}
          }
        },
        {
          "data": {"values": [{}]},
          "mark": {"type": "rule", "color": "black", "strokeWidth": 2},
          "encoding": {"y": {"datum": 1.4, "type": "quantitative", "scale": {"domain": [0, 1.4], "nice": false}}}
        },
        {
          "data": {"values": [{}]},
          "mark": {"type": "rule", "color": "black", "strokeWidth": 2},
          "encoding": {"x": {"datum": 2131, "type": "quantitative", "scale": {"domain": [1, 2131], "nice": false, "zero": false}}}
        },
        {
          "data": {"name": "observed"},
          "mark": {"type": "line", "strokeWidth": 1.3, "clip": true},
          "encoding": {
            "x": {"field": "day", "type": "quantitative", "scale": {"domain": [1, 2131], "nice": false, "zero": false},
              "axis": {"values": [1, 25, 63, 111, 169, 228, 286, 345, 403, 462, 520, 578, 637, 695, 754, 812, 870, 929, 987, 1056, 1135, 1215, 1294, 1373, 1452, 1532, 1611, 1690, 1770, 1849, 1928, 2007, 2087],
                "format": "d", "title": null, "grid": true, "zindex": 1, "domainWidth": 3, "tickSize": 5, "labelPadding": 3, "labelOverlap": false, "labelColor": "#111111", "gridColor": "#333333"}},
            "y": {"field": "q", "type": "quantitative", "scale": {"domain": [0, 1.4], "nice": false},
              "axis": {"values": [0, 1], "format": "d", "title": "m³ / s", "grid": true, "zindex": 1, "domainWidth": 2, "tickSize": 5, "labelPadding": 3, "titlePadding": 42, "labelColor": "#111111", "gridColor": "#333333"}},
            "color": {"datum": "Observed", "type": "nominal",
              "scale": {"domain": ["Simulated", "Observed", "Scenario"], "range": ["#0000c8", "#e00000", "#007a1e"]},
              "legend": {"orient": "none", "legendX": 1560, "legendY": -12, "title": null, "fillColor": "white", "strokeColor": "black",
                "padding": 3, "labelFont": "Liberation Sans", "labelFontSize": 15, "labelColor": "black", "symbolType": "stroke",
                "symbolSize": 300, "symbolStrokeWidth": 1.5, "symbolOffset": 6, "rowPadding": 3, "labelOffset": 9, "zindex": 2}}
          }
        },
        {
          "data": {"name": "simulated"},
          "mark": {"type": "line", "strokeWidth": 1.3, "clip": true},
          "encoding": {
            "x": {"field": "day", "type": "quantitative", "scale": {"domain": [1, 2131], "nice": false, "zero": false}},
            "y": {"field": "q", "type": "quantitative", "scale": {"domain": [0, 1.4], "nice": false}},
            "color": {"datum": "Simulated", "type": "nominal",
              "scale": {"domain": ["Simulated", "Observed", "Scenario"], "range": ["#0000c8", "#e00000", "#007a1e"]}}
          }
        }
      ]
    }
  ]
}
